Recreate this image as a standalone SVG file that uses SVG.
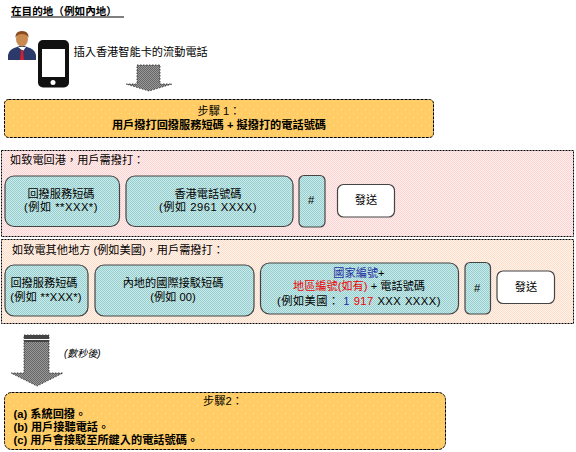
<svg xmlns="http://www.w3.org/2000/svg" width="576" height="452" viewBox="0 0 576 452">
<style>
text{font-family:"Liberation Sans","Noto Sans CJK TC",sans-serif;font-size:11.2px;fill:#000}
.c{text-anchor:middle}
.b{font-weight:bold}
.s{font-size:10.6px}
.i{font-size:10px;font-style:italic}
.orange{fill:url(#po);stroke:#000;stroke-width:1;stroke-dasharray:3 1}
.pink{fill:url(#pp);stroke:#000;stroke-width:1;stroke-dasharray:2 1}
.peach{fill:url(#pq);stroke:#000;stroke-width:1;stroke-dasharray:2 1}
.teal{fill:url(#pt);stroke:#444;stroke-width:1.2}
.white{fill:#fff;stroke:#444;stroke-width:1.2}
.arrow{fill:url(#pg);stroke:#222;stroke-width:.8;stroke-dasharray:1.5 1.5}
</style>
<defs>
<pattern id="po" width="8" height="8" patternUnits="userSpaceOnUse"><rect width="8" height="8" fill="#ffcc66"/><rect x="1" y="1" width="1" height="1" fill="#ffe38f"/><rect x="5" y="5" width="1" height="1" fill="#ffe38f"/></pattern>
<pattern id="pp" width="2" height="2" patternUnits="userSpaceOnUse"><rect width="2" height="2" fill="#fff0f0"/><rect width="1" height="1" fill="#ffd2d2"/><rect x="1" y="1" width="1" height="1" fill="#ffd2d2"/></pattern>
<pattern id="pq" width="2" height="2" patternUnits="userSpaceOnUse"><rect width="2" height="2" fill="#fff4e8"/><rect width="1" height="1" fill="#ffdccc"/><rect x="1" y="1" width="1" height="1" fill="#ffdccc"/></pattern>
<pattern id="pt" width="2" height="2" patternUnits="userSpaceOnUse"><rect width="2" height="2" fill="#c8ecec"/><rect width="1" height="1" fill="#99cccc"/><rect x="1" y="1" width="1" height="1" fill="#99cccc"/></pattern>
<pattern id="pg" width="2" height="2" patternUnits="userSpaceOnUse"><rect width="2" height="2" fill="#999"/><rect width="1" height="1" fill="#666"/><rect x="1" y="1" width="1" height="1" fill="#666"/></pattern>
</defs>
<g id="heading"><text x="11" y="15" class="b s">在目的地（例如內地）</text><rect x="11" y="16.500" width="113" height="1" fill="#000"/></g>
<g id="person">
<path d="M8 60V55Q9 49 17 47L22 45L27 47Q35 49 36 55V60Z" fill="#2b3a6b"/>
<path d="M18 47H26L23 51Z" fill="#fff"/><path d="M21 50H23L24 60H20Z" fill="#d02030"/>
<ellipse cx="22" cy="39" rx="6" ry="7.500" fill="#c98a50"/><path d="M15.500 38Q15 31 22 31Q29 31 28.500 38Q27 34 22 34Q17 34 15.500 38Z" fill="#8a4a20"/>
</g>
<g id="phone"><rect x="38" y="40" width="31" height="47.500" rx="5" fill="#111"/><rect x="42" y="49" width="23" height="28" fill="#fff"/><circle cx="53" cy="82.500" r="2.500" fill="#fff"/></g>
<g id="insert-label"><text x="73.500" y="56">插入香港智能卡的流動電話</text></g>
<g id="connectors">
<path class="arrow" d="M137 65H160V84H172L149 91L126 84H137Z"/>
<path class="arrow" d="M24 335H49V373H63L37 386L11 373H24Z"/>
<rect x="24" y="335" width="25" height="7" fill="#444"/><rect x="24" y="339" width="25" height="1" fill="#fff"/>
</g>
<g id="step1"><rect class="orange" x="4.500" y="99.500" width="429" height="38" rx="4"/><text x="219" y="115" class="c">步驟 1：</text><text x="219" y="129" class="c b">用戶撥打回撥服務短碼 + 擬撥打的電話號碼</text></g>
<g id="panel-hk"><rect class="pink" x="1.500" y="150.500" width="572" height="86"/><text x="10" y="164">如致電回港，用戶需撥打：</text></g>
<g id="panel-other"><rect class="peach" x="1.500" y="239.500" width="572" height="84"/><text x="12" y="254">如致電其他地方 (例如美國)，用戶需撥打：</text></g>
<g id="hk-code"><rect class="teal" x="5" y="176" width="114.500" height="50.500" rx="9"/><text x="61" y="198" class="c">回撥服務短碼</text><text x="61" y="211" class="c" letter-spacing=".5">(例如  **XXX*)</text></g>
<g id="hk-number"><rect class="teal" x="126" y="176" width="167" height="50.500" rx="9"/><text x="208" y="198" class="c">香港電話號碼</text><text x="208" y="211" class="c" letter-spacing=".5">(例如  2961 XXXX)</text></g>
<g id="hk-hash"><rect class="teal" x="299" y="175.500" width="26" height="51.500" rx="5"/><text x="311" y="204" class="c">#</text></g>
<g id="hk-send"><rect class="white" x="337.500" y="184.500" width="57" height="32.500" rx="6"/><text x="366" y="204" class="c">發送</text></g>
<g id="other-code"><rect class="teal" x="5" y="265" width="83" height="51" rx="9"/><text x="44" y="287" class="c">回撥服務短碼</text><text x="46" y="301" class="c" letter-spacing=".3">(例如 **XXX*)</text></g>
<g id="other-idd"><rect class="teal" x="95" y="265" width="159" height="51" rx="9"/><text x="173" y="287" class="c">內地的國際接駁短碼</text><text x="173" y="301" class="c">(例如 00)</text></g>
<g id="other-number"><rect class="teal" x="260.500" y="263" width="198" height="51" rx="9"/>
<text x="359" y="277" class="c"><tspan fill="#1f2f9f" style="fill:#1f2f9f">國家編號</tspan>+</text>
<text x="359" y="290" class="c"><tspan style="fill:#f00000">地區編號(如有)</tspan> + 電話號碼</text>
<text x="359" y="305" class="c" letter-spacing=".5">(例如美國： <tspan style="fill:#1f2f9f">1</tspan> <tspan style="fill:#f00000">917</tspan>  XXX XXXX)</text></g>
<g id="other-hash"><rect class="teal" x="465" y="262.500" width="25.500" height="51.500" rx="5"/><text x="477" y="292" class="c">#</text></g>
<g id="other-send"><rect class="white" x="497" y="271" width="57.500" height="32.500" rx="6"/><text x="526" y="291" class="c">發送</text></g>
<g id="wait-label"><text x="64" y="357" class="i">(數秒後)</text></g>
<g id="step2"><rect class="orange" x="4.500" y="392.500" width="441" height="57" rx="7"/><text x="223" y="405" class="c">步驟2：</text>
<text x="13.500" y="418" class="b">(a) 系統回撥。</text><text x="13.500" y="431" class="b">(b) 用戶接聽電話。</text><text x="13.500" y="444" class="b">(c) 用戶會接駁至所鍵入的電話號碼。</text></g>
</svg>
